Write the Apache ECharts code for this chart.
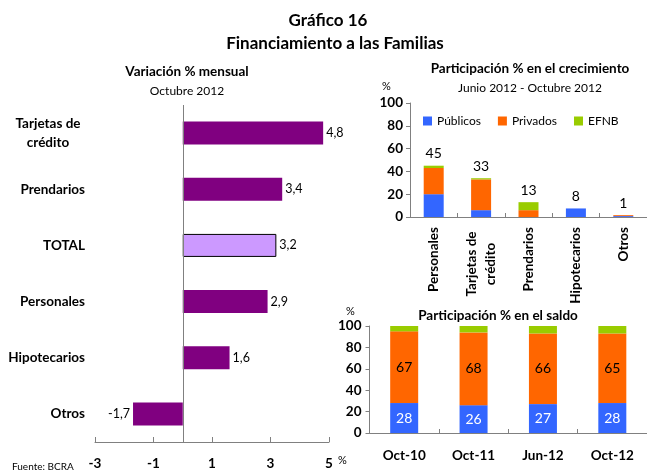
<!DOCTYPE html>
<html>
<head>
<meta charset="utf-8">
<script src="https://cdn.jsdelivr.net/npm/echarts@6/dist/echarts.min.js"></script>
<style>
  html, body { margin: 0; padding: 0; background: #fff; }
  #chart { width: 647px; height: 476px; }
</style>
</head>
<body>
<div id="chart"></div>
<script>
// Variación % mensual - Octubre 2012
const monthlyCategories = ['Tarjetas de\ncrédito', 'Prendarios', 'TOTAL', 'Personales', 'Hipotecarios', 'Otros']
const monthlyValues = [4.8, 3.4, 3.2, 2.9, 1.6, -1.7]
const monthlyTicks = [-3, -1, 1, 3, 5]

// Participación % en el crecimiento - Junio 2012 / Octubre 2012
const growthCategories = ['Personales', 'Tarjetas de\ncrédito', 'Prendarios', 'Hipotecarios', 'Otros']
const growthPublicos = [20, 6, 0, 7.5, 0.8]
const growthPrivados = [23, 27, 6, 0, 0.8]
const growthEfnb = [2, 1, 7, 0, 0]
const growthTotals = [45, 33, 13, 8, 1]

// Participación % en el saldo
const stockDates = ['Oct-10', 'Oct-11', 'Jun-12', 'Oct-12']
const stockPublicos = [28, 26, 27, 28]
const stockPrivados = [67, 68, 66, 65]
const stockEfnb = [5, 6, 7, 7]

const FONT = 'Lato'
const AXIS = '#808080'
const BLUE = '#3366ff'
const ORANGE = '#ff6600'
const GREEN = '#99cc00'

const chart = echarts.init(document.getElementById('chart'))

// etiquetas de dos líneas centradas
const twoLines = (v) => {
  if (v.indexOf('\n') < 0) return v
  return v.split('\n').map(s => '{c|' + s + '}').join('\n')
}
const richCenter = { c: { width: 74, align: 'center', fontWeight: 'bold', fontSize: 13.5, fontFamily: FONT, color: '#000', lineHeight: 19 } }

const boldLabel = { fontWeight: 'bold', fontSize: 13.5, fontFamily: FONT, color: '#000' }
const titleBold = { fontSize: 13.5, fontWeight: 'bold', color: '#000' }
const titleNormal = { fontSize: 12, fontWeight: 'normal', color: '#000' }

chart.setOption({
  animation: false,
  textStyle: { fontFamily: FONT },
  title: [
    { text: 'Gráfico 16', left: 323, top: 7, textAlign: 'center', textStyle: { fontSize: 17, fontWeight: 'bold', color: '#000' } },
    { text: 'Financiamiento a las Familias', left: 330, top: 30, textAlign: 'center', textStyle: { fontSize: 17, fontWeight: 'bold', color: '#000' } },
    { text: 'Variación % mensual', left: 182, top: 60, textAlign: 'center', textStyle: titleBold },
    { text: 'Octubre 2012', left: 182, top: 80, textAlign: 'center', textStyle: titleNormal },
    { text: 'Participación % en el crecimiento', left: 525, top: 57, textAlign: 'center', textStyle: titleBold },
    { text: 'Junio 2012 - Octubre 2012', left: 525, top: 77, textAlign: 'center', textStyle: titleNormal },
    { text: 'Participación % en el saldo', left: 493, top: 304, textAlign: 'center', textStyle: titleBold }
  ],
  legend: {
    data: ['Públicos', 'Privados', 'EFNB'],
    left: 423,
    top: 115,
    icon: 'rect',
    itemWidth: 9,
    itemHeight: 9,
    itemGap: 17,
    padding: 0,
    textStyle: { fontSize: 12, fontFamily: FONT, color: '#000' }
  },
  grid: [
    { left: 95, top: 105, width: 234, height: 337 },
    { left: 410, top: 103, width: 242.5, height: 114 },
    { left: 369.5, top: 326, width: 277.5, height: 107 }
  ],
  xAxis: [
    {
      gridIndex: 0,
      type: 'value',
      min: -3,
      max: 5,
      splitLine: { show: false },
      axisLine: { show: true, onZero: false, lineStyle: { color: AXIS } },
      axisTick: { show: true, inside: true, length: 5, customValues: monthlyTicks, lineStyle: { color: AXIS } },
      axisLabel: Object.assign({ margin: 15, customValues: monthlyTicks }, boldLabel)
    },
    {
      gridIndex: 1,
      type: 'category',
      data: growthCategories,
      axisLine: { lineStyle: { color: AXIS } },
      axisTick: { show: true, inside: true, length: 4, lineStyle: { color: AXIS } },
      axisLabel: Object.assign({ rotate: 90, margin: 10, interval: 0, formatter: twoLines, rich: richCenter }, boldLabel)
    },
    {
      gridIndex: 2,
      type: 'category',
      data: stockDates,
      axisLine: { lineStyle: { color: AXIS } },
      axisTick: { show: true, inside: true, length: 4, lineStyle: { color: AXIS } },
      axisLabel: Object.assign({ margin: 16 }, boldLabel)
    }
  ],
  yAxis: [
    {
      gridIndex: 0,
      type: 'category',
      inverse: true,
      data: monthlyCategories,
      axisLine: { show: false },
      axisTick: { show: false },
      axisLabel: Object.assign({ margin: 10, interval: 0, formatter: twoLines, rich: richCenter }, boldLabel)
    },
    {
      gridIndex: 1,
      type: 'value',
      min: 0,
      max: 100,
      interval: 20,
      splitLine: { show: false },
      axisLine: { show: true, lineStyle: { color: AXIS } },
      axisTick: { show: true, length: 4, lineStyle: { color: AXIS } },
      axisLabel: Object.assign({ margin: 7 }, boldLabel)
    },
    {
      gridIndex: 2,
      type: 'value',
      min: 0,
      max: 100,
      interval: 20,
      splitLine: { show: false },
      axisLine: { show: true, lineStyle: { color: AXIS } },
      axisTick: { show: true, length: 4, lineStyle: { color: AXIS } },
      axisLabel: Object.assign({ margin: 8 }, boldLabel)
    }
  ],
  series: [
    {
      name: 'Variación',
      type: 'bar',
      xAxisIndex: 0,
      yAxisIndex: 0,
      barWidth: 23,
      data: monthlyValues.map((v, i) => ({
        value: v,
        itemStyle: monthlyCategories[i] === 'TOTAL'
          ? { color: '#cc99ff', borderColor: '#000', borderWidth: 1 }
          : { color: '#800080' },
        label: { position: v < 0 ? 'left' : 'right' }
      })),
      label: {
        show: true,
        distance: 3,
        fontSize: 12.5,
        color: '#000',
        formatter: (p) => String(p.value).replace('.', ',')
      },
      markLine: {
        silent: true,
        symbol: 'none',
        label: { show: false },
        lineStyle: { color: AXIS, type: 'solid', width: 1 },
        data: [{ xAxis: 0 }]
      }
    },
    { name: 'Públicos', type: 'bar', stack: 'g', xAxisIndex: 1, yAxisIndex: 1, barWidth: 20, color: BLUE, data: growthPublicos },
    { name: 'Privados', type: 'bar', stack: 'g', xAxisIndex: 1, yAxisIndex: 1, barWidth: 20, color: ORANGE, data: growthPrivados },
    {
      name: 'EFNB',
      type: 'bar',
      stack: 'g',
      xAxisIndex: 1,
      yAxisIndex: 1,
      barWidth: 20,
      color: GREEN,
      data: growthEfnb,
      label: {
        show: true,
        position: 'top',
        distance: 5,
        fontSize: 14,
        color: '#000',
        formatter: (p) => growthTotals[p.dataIndex]
      }
    },
    {
      name: 'Públicos', type: 'bar', stack: 's', xAxisIndex: 2, yAxisIndex: 2, barWidth: 28, color: BLUE, data: stockPublicos,
      label: { show: true, position: 'inside', fontSize: 14, color: '#fff' }
    },
    {
      name: 'Privados', type: 'bar', stack: 's', xAxisIndex: 2, yAxisIndex: 2, barWidth: 28, color: ORANGE, data: stockPrivados,
      label: { show: true, position: 'inside', fontSize: 14, color: '#000' }
    },
    { name: 'EFNB', type: 'bar', stack: 's', xAxisIndex: 2, yAxisIndex: 2, barWidth: 28, color: GREEN, data: stockEfnb }
  ],
  graphic: [
    { type: 'text', left: 12, top: 462, style: { text: 'Fuente: BCRA', fontSize: 10, fontFamily: FONT, fill: '#000' } },
    { type: 'text', left: 338, top: 455, style: { text: '%', fontSize: 11, fontFamily: FONT, fill: '#000' } },
    { type: 'text', left: 382, top: 81, style: { text: '%', fontSize: 11, fontFamily: FONT, fill: '#000' } },
    { type: 'text', left: 346, top: 306, style: { text: '%', fontSize: 11, fontFamily: FONT, fill: '#000' } }
  ]
})
</script>
</body>
</html>
